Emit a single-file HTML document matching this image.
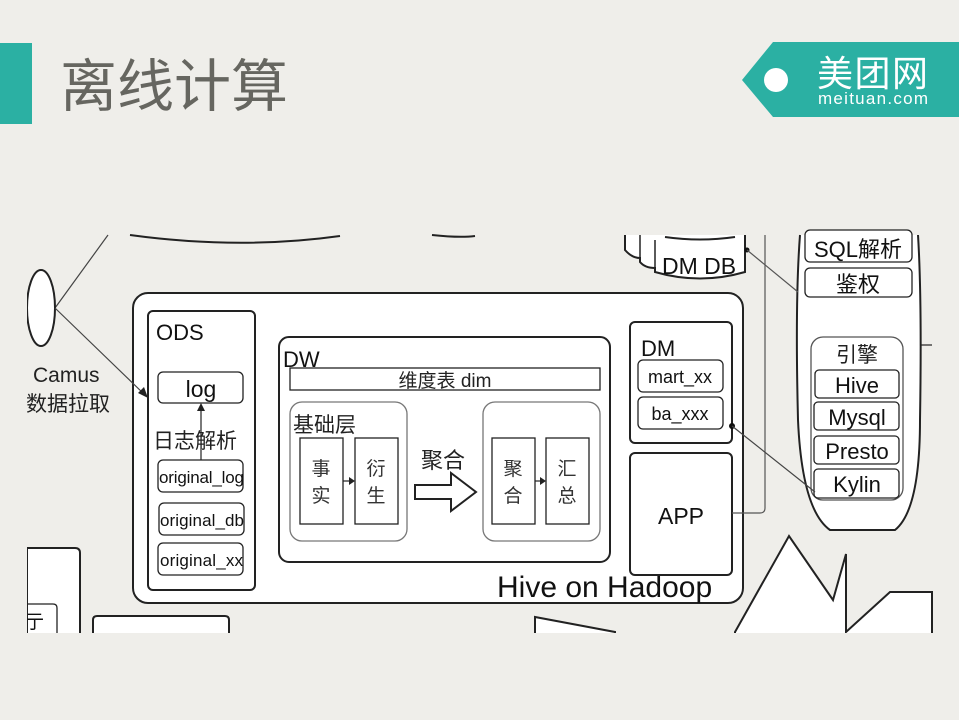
<!DOCTYPE html>
<html><head><meta charset="utf-8"><style>
html,body{margin:0;padding:0;background:#efeeea;}
body{width:959px;height:720px;overflow:hidden;position:relative;font-family:"Liberation Sans","Noto Sans CJK SC",sans-serif;}
</style></head><body>
<svg width="959" height="720" viewBox="0 0 959 720" xmlns="http://www.w3.org/2000/svg" style="position:absolute;left:0;top:0">
<rect x="0" y="0" width="959" height="720" fill="#efeeea"/>
<rect x="0" y="43" width="32" height="81" fill="#2bb0a3"/>
<text x="60" y="106" font-family="Liberation Sans, Noto Sans CJK SC, sans-serif" font-size="57" fill="#666660">离线计算</text>
<polygon points="742,80 773,42 959,42 959,117 773,117" fill="#2bb0a3"/>
<circle cx="776" cy="80" r="12" fill="#fff"/>
<text x="817" y="86" font-family="Noto Sans CJK SC, sans-serif" font-size="36" fill="#fff" textLength="111">美团网</text>
<text x="818" y="104" font-family="Liberation Sans, sans-serif" font-size="17" fill="#fff" textLength="110">meituan.com</text>

<g fill="none" stroke="#222" stroke-width="2" font-family="Liberation Sans, Noto Sans CJK SC, sans-serif">
<path d="M130,235 Q240,250 340,236"/>
<path d="M432,235 Q460,238 475,236"/>
<line x1="108" y1="235" x2="55" y2="308" stroke-width="1.2" stroke="#444"/>
<ellipse cx="41" cy="308" rx="14" ry="38" fill="#fff"/>
<rect x="20" y="265" width="7" height="90" fill="#efeeea" stroke="none"/>
<text x="33" y="382" font-size="21" fill="#222" stroke="none">Camus</text>
<text x="26" y="411" font-size="21" fill="#222" stroke="none">数据拉取</text>

<rect x="133" y="293" width="610" height="310" rx="15" fill="#fff"/>
<text x="497" y="597" font-size="30" fill="#111" stroke="none">Hive on Hadoop</text>
<line x1="55" y1="308" x2="145" y2="395" stroke-width="1.2" stroke="#444"/>
<polygon points="148,398 138,393 144,387" fill="#222" stroke="none"/>
<rect x="148" y="311" width="107" height="279" rx="5" fill="#fff"/>
<text x="156" y="340" font-size="22" fill="#111" stroke="none">ODS</text>
<rect x="158" y="372" width="85" height="31" rx="5" fill="#fff" stroke-width="1.3"/>
<text x="201" y="397" font-size="23" fill="#111" stroke="none" text-anchor="middle">log</text>
<text x="153" y="448" font-size="21" fill="#222" stroke="none">日志解析</text>
<line x1="201" y1="460" x2="201" y2="410" stroke-width="1.2"/>
<polygon points="201,403 197,411 205,411" fill="#222" stroke="none"/>
<rect x="158" y="460" width="85" height="32" rx="5" fill="#fff" stroke-width="1.3"/>
<text x="159" y="483" font-size="17" fill="#111" stroke="none" textLength="85">original_log</text>
<rect x="159" y="503" width="85" height="32" rx="5" fill="#fff" stroke-width="1.3"/>
<text x="160" y="526" font-size="17" fill="#111" stroke="none" textLength="84">original_db</text>
<rect x="158" y="543" width="85" height="32" rx="5" fill="#fff" stroke-width="1.3"/>
<text x="160" y="566" font-size="17" fill="#111" stroke="none" textLength="83">original_xx</text>

<rect x="279" y="337" width="331" height="225" rx="10" fill="#fff"/>
<text x="283" y="367" font-size="22" fill="#111" stroke="none">DW</text>
<rect x="290" y="368" width="310" height="22" fill="#fff" stroke-width="1.3"/>
<text x="445" y="387" font-size="19" fill="#222" stroke="none" text-anchor="middle">维度表 dim</text>
<rect x="290" y="402" width="117" height="139" rx="12" fill="#fff" stroke="#777" stroke-width="1.3"/>
<text x="293" y="432" font-size="21" fill="#222" stroke="none">基础层</text>
<rect x="300" y="438" width="43" height="86" fill="#fff" stroke-width="1.3"/>
<rect x="355" y="438" width="43" height="86" fill="#fff" stroke-width="1.3"/>
<text x="321" y="475" font-size="19" fill="#333" stroke="none" text-anchor="middle">事</text>
<text x="321" y="502" font-size="19" fill="#333" stroke="none" text-anchor="middle">实</text>
<text x="376" y="475" font-size="19" fill="#333" stroke="none" text-anchor="middle">衍</text>
<text x="376" y="502" font-size="19" fill="#333" stroke="none" text-anchor="middle">生</text>
<line x1="343" y1="481" x2="350" y2="481" stroke-width="1.2"/>
<polygon points="355,481 349,477 349,485" fill="#222" stroke="none"/>
<text x="421" y="468" font-size="22" fill="#222" stroke="none">聚合</text>
<polygon points="415,485 451,485 451,473 476,492 451,511 451,499 415,499" fill="#fff" stroke-width="2"/>
<rect x="483" y="402" width="117" height="139" rx="12" fill="#fff" stroke="#777" stroke-width="1.3"/>
<rect x="492" y="438" width="43" height="86" fill="#fff" stroke-width="1.3"/>
<rect x="546" y="438" width="43" height="86" fill="#fff" stroke-width="1.3"/>
<text x="513" y="475" font-size="19" fill="#333" stroke="none" text-anchor="middle">聚</text>
<text x="513" y="502" font-size="19" fill="#333" stroke="none" text-anchor="middle">合</text>
<text x="567" y="475" font-size="19" fill="#333" stroke="none" text-anchor="middle">汇</text>
<text x="567" y="502" font-size="19" fill="#333" stroke="none" text-anchor="middle">总</text>
<line x1="535" y1="481" x2="541" y2="481" stroke-width="1.2"/>
<polygon points="546,481 540,477 540,485" fill="#222" stroke="none"/>

<rect x="630" y="322" width="102" height="121" rx="5" fill="#fff"/>
<text x="641" y="356" font-size="22" fill="#111" stroke="none">DM</text>
<rect x="638" y="360" width="85" height="32" rx="5" fill="#fff" stroke-width="1.3"/>
<text x="680" y="383" font-size="18" fill="#111" stroke="none" text-anchor="middle">mart_xx</text>
<rect x="638" y="397" width="85" height="32" rx="5" fill="#fff" stroke-width="1.3"/>
<text x="680" y="420" font-size="18" fill="#111" stroke="none" text-anchor="middle">ba_xxx</text>
<rect x="630" y="453" width="102" height="122" rx="5" fill="#fff"/>
<text x="681" y="524" font-size="23" fill="#111" stroke="none" text-anchor="middle">APP</text>
<path d="M732,513 L760,513 Q765,513 765,508 L765,235" stroke-width="1.2" stroke="#555"/>

<path d="M625,235 L625,250 Q632,258 640,258 L640,262 Q645,268 655,268 L655,272 Q700,285 745,272 L745,235" fill="#fff"/>
<path d="M655,240 L655,272" stroke-width="1.5"/>
<path d="M640,235 L640,258" stroke-width="1.5"/>
<path d="M665,237 Q700,242 735,237"/>
<text x="662" y="274" font-size="23" fill="#111" stroke="none">DM DB</text>

<path d="M800,235 Q795,300 798,420 Q802,510 830,530 L895,530 Q920,510 920,420 Q922,300 918,235" fill="#fff"/>
<line x1="920" y1="345" x2="932" y2="345" stroke-width="1.2"/>
<circle cx="747" cy="250" r="2.5" fill="#111" stroke="none"/>
<line x1="747" y1="250" x2="798" y2="292" stroke-width="1.2" stroke="#555"/>
<rect x="805" y="230" width="107" height="32" rx="5" fill="#fff" stroke-width="1.3"/>
<text x="858" y="257" font-size="22" fill="#111" stroke="none" text-anchor="middle">SQL解析</text>
<rect x="805" y="268" width="107" height="29" rx="5" fill="#fff" stroke-width="1.3"/>
<text x="858" y="292" font-size="22" fill="#111" stroke="none" text-anchor="middle">鉴权</text>
<rect x="811" y="337" width="92" height="163" rx="12" fill="#fff" stroke="#555" stroke-width="1.3"/>
<text x="857" y="362" font-size="21" fill="#222" stroke="none" text-anchor="middle">引擎</text>
<rect x="815" y="370" width="84" height="28" rx="4" fill="#fff" stroke-width="1.3"/>
<text x="857" y="393" font-size="22" fill="#111" stroke="none" text-anchor="middle">Hive</text>
<rect x="814" y="402" width="85" height="28" rx="4" fill="#fff" stroke-width="1.3"/>
<text x="857" y="425" font-size="22" fill="#111" stroke="none" text-anchor="middle">Mysql</text>
<rect x="814" y="436" width="85" height="28" rx="4" fill="#fff" stroke-width="1.3"/>
<text x="857" y="459" font-size="22" fill="#111" stroke="none" text-anchor="middle">Presto</text>
<rect x="814" y="469" width="85" height="29" rx="4" fill="#fff" stroke-width="1.3"/>
<text x="857" y="492" font-size="22" fill="#111" stroke="none" text-anchor="middle">Kylin</text>
<circle cx="732" cy="426" r="3" fill="#111" stroke="none"/>
<line x1="732" y1="426" x2="815" y2="492" stroke-width="1.2" stroke="#444"/>

<path d="M27,548 L75,548 Q80,548 80,553 L80,640 L27,640 Z" fill="#fff"/>
<path d="M27,604 L53,604 Q57,604 57,608 L57,640" fill="none" stroke-width="1.3"/>
<text x="25" y="628" font-size="19" fill="#111" stroke="none">亍</text>
<path d="M93,640 L93,620 Q93,616 97,616 L225,616 Q229,616 229,620 L229,640 Z" fill="#fff"/>
<path d="M535,640 L535,617 L615,632 L615,640 Z" fill="#fff"/>
<path d="M735,640 L735,632 L789,536 L833,600 L846,554 L846,632 L890,592 L932,592 L932,640 Z" fill="#fff"/>
</g>
<rect x="0" y="633" width="959" height="87" fill="#efeeea"/>
<rect x="0" y="230" width="27" height="403" fill="#efeeea"/>
</svg>
</body></html>
